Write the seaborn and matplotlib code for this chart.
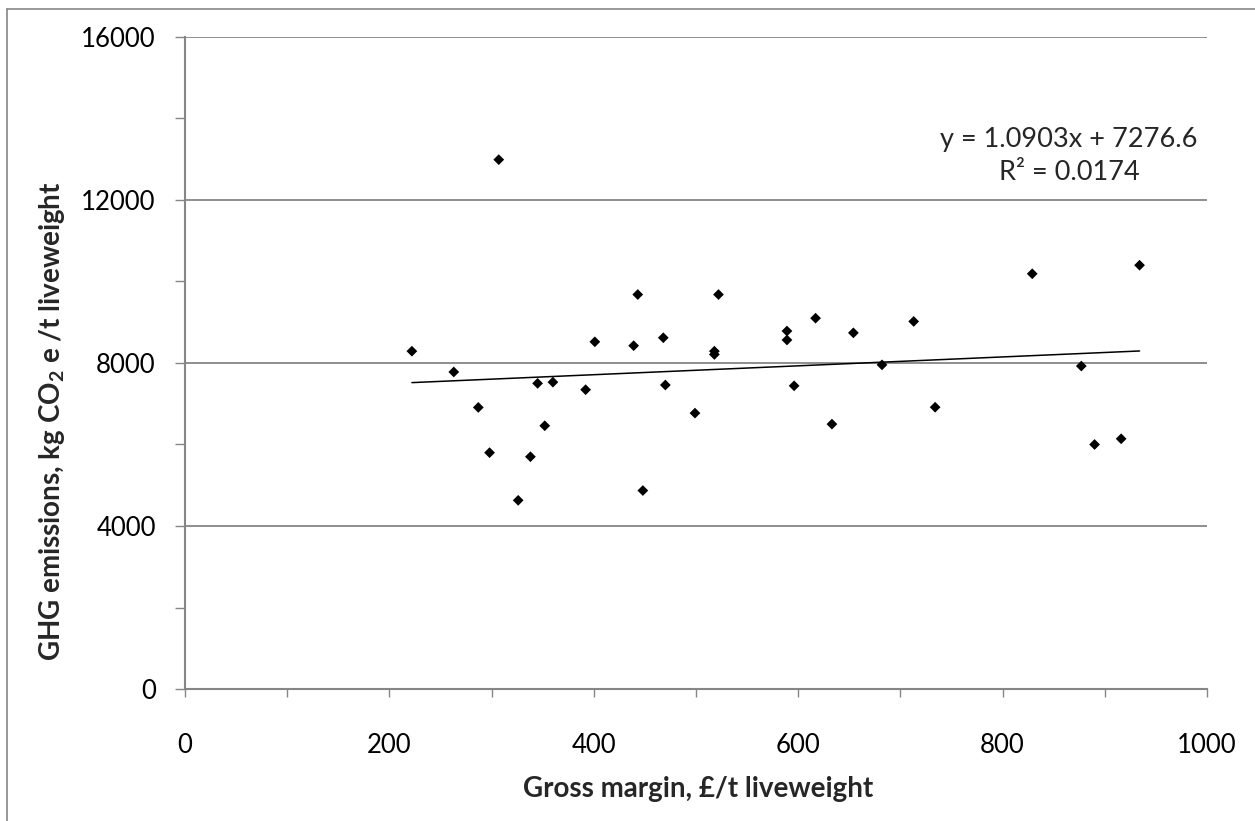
import numpy as np
import pandas as pd
import matplotlib
matplotlib.use("Agg")
import matplotlib.pyplot as plt
import seaborn as sns
from matplotlib.lines import Line2D

# ---- data ----
gross_margin = [222, 263, 287, 298, 307, 326, 338, 345, 352, 360,
                392, 401, 439, 443, 448, 468, 470, 499, 518, 518,
                522, 589, 589, 596, 617, 633, 654, 682, 713, 734,
                829, 877, 890, 916, 934]
ghg = [8290, 7780, 6910, 5800, 12990, 4630, 5700, 7500, 6460, 7530,
       7345, 8520, 8425, 9680, 4870, 8620, 7460, 6770, 8290, 8210,
       9680, 8785, 8565, 7440, 9100, 6500, 8740, 7955, 9020, 6915,
       10190, 7925, 6000, 6140, 10400]
slope = 1.0903
intercept = 7276.6
r_squared = 0.0174
x_ticks = [0, 200, 400, 600, 800, 1000]
y_ticks = [0, 4000, 8000, 12000, 16000]

df = pd.DataFrame({"gm": gross_margin, "ghg": ghg})

sns.set_theme(style="white")
plt.rcParams["font.family"] = ["Lato", "DejaVu Sans"]
plt.rcParams["mathtext.fontset"] = "custom"
plt.rcParams["mathtext.rm"] = "Lato"
plt.rcParams["mathtext.bf"] = "Lato:bold"

W, H = 1255, 821
fig = plt.figure(figsize=(W / 100, H / 100), dpi=100)
ax = fig.add_axes([185 / W, 1 - 689 / H, (1207 - 185) / W, (689 - 37) / H])

sns.scatterplot(data=df, x="gm", y="ghg", marker="D", s=30, color="black",
                edgecolor="none", ax=ax, zorder=3)

tx = np.array([min(gross_margin), max(gross_margin)])
sns.lineplot(x=tx, y=slope * tx + intercept, color="black", linewidth=1.1,
             ax=ax, zorder=2)

ax.set_xlim(0, 1000)
ax.set_ylim(0, 16000)
ax.set_xticks(x_ticks)
ax.set_xticks(np.arange(0, 1001, 100), minor=True)
ax.set_yticks(y_ticks)
ax.set_yticks(np.arange(0, 16001, 2000), minor=True)
ax.set_xticklabels([str(v) for v in x_ticks])
ax.set_yticklabels([str(v) for v in y_ticks])

gray = "#868686"
ax.yaxis.grid(True, which="major", color=gray, linewidth=1.3)
ax.xaxis.grid(False)
ax.set_axisbelow(True)
for side in ["top", "right"]:
    ax.spines[side].set_visible(False)
for side in ["left", "bottom"]:
    ax.spines[side].set_color(gray)
    ax.spines[side].set_linewidth(1.5)

ax.tick_params(axis="x", which="both", direction="out", length=6, width=1,
               color=gray, bottom=True, labelsize=18.5, pad=26, labelcolor="black")
ax.tick_params(axis="y", which="both", direction="out", length=7, width=1,
               color=gray, left=True, labelsize=18.5, pad=14, labelcolor="black")

ax.set_xlabel("Gross margin, £/t liveweight", fontsize=20, fontweight="bold")
ax.xaxis.label.set_va("center")
ax.xaxis.set_label_coords((698 - 185) / 1022, (689 - 789) / 652)
ax.set_ylabel(r"GHG emissions, kg CO$_\mathbf{2}$ e /t liveweight", fontsize=20,
              fontweight="bold")
ax.yaxis.label.set_va("center")
ax.yaxis.set_label_coords((52 - 185) / 1022, (689 - 421) / 652)

ax.text((1069 - 185) / 1022, (689 - 140) / 652,
        f"y = {slope}x + {intercept}", transform=ax.transAxes,
        ha="center", va="center", fontsize=19.5)
ax.text((1069 - 185) / 1022, (689 - 173) / 652,
        f"R² = {r_squared}", transform=ax.transAxes,
        ha="center", va="center", fontsize=19.5)

# outer chart-area border (top and left visible)
fig.add_artist(Line2D([7 / W, 1.0], [1 - 9 / H, 1 - 9 / H], color=gray,
                      linewidth=1.2, transform=fig.transFigure))
fig.add_artist(Line2D([7 / W, 7 / W], [0.0, 1 - 9 / H], color=gray,
                      linewidth=1.2, transform=fig.transFigure))

fig.savefig("out.png", dpi=100)
